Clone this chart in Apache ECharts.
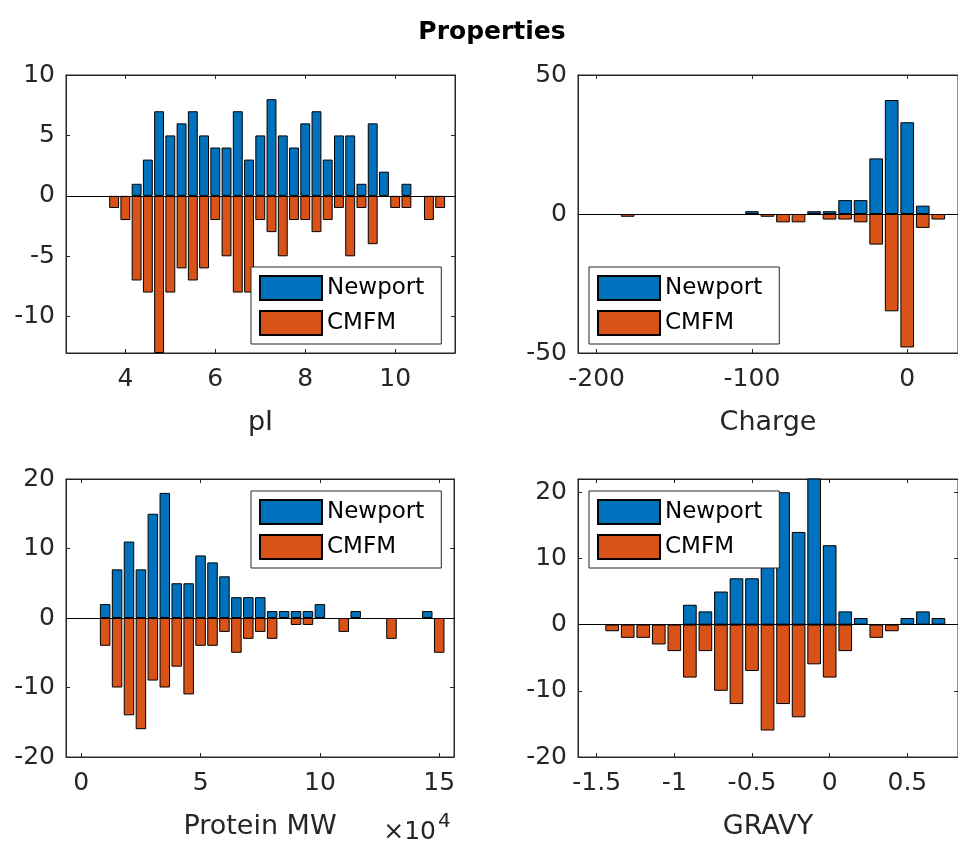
<!DOCTYPE html>
<html>
<head>
<meta charset="utf-8">
<script src="https://cdn.jsdelivr.net/npm/echarts@6/dist/echarts.min.js"></script>
<style>
  html, body { margin: 0; padding: 0; background: #fff; }
  #chart { width: 958px; height: 844px; }
</style>
</head>
<body>
<div id="chart"></div>
<script>
// ---------- data ----------
const seriesNames = ['Newport', 'CMFM'];

// pI histogram
const pIBins = [3.75, 4.0, 4.25, 4.5, 4.75, 5.0, 5.25, 5.5, 5.75, 6.0, 6.25, 6.5, 6.75, 7.0, 7.25,
                7.5, 7.75, 8.0, 8.25, 8.5, 8.75, 9.0, 9.25, 9.5, 9.75, 10.0, 10.25, 10.5, 10.75, 11.0];
const pINewport = [0, 0, 1, 3, 7, 5, 6, 7, 5, 4, 4, 7, 3, 5, 8, 5, 4, 6, 7, 3, 5, 5, 1, 6, 2, 0, 1, 0, 0, 0];
const pICMFM = [-1, -2, -7, -8, -13, -8, -6, -7, -6, -2, -5, -8, -8, -2, -3, -5, -2, -2, -3, -2, -1, -5, -1, -4, 0, -1, -1, 0, -2, -1];
const pIXTicks = [4, 6, 8, 10];
const pIYTicks = [-10, -5, 0, 5, 10];

// Charge histogram
const chargeBins = [-180, -170, -160, -150, -140, -130, -120, -110, -100, -90, -80, -70, -60, -50, -40, -30, -20, -10, 0, 10, 20];
const chargeNewport = [0, 0, 0, 0, 0, 0, 0, 0, 1, 0, 0, 0, 1, 1, 5, 5, 20, 41, 33, 3, 0];
const chargeCMFM = [-1, 0, 0, 0, 0, 0, 0, 0, 0, -1, -3, -3, 0, -2, -2, -3, -11, -35, -48, -5, -2];
const chargeXTicks = [-200, -100, 0];
const chargeYTicks = [-50, 0, 50];

// Protein MW histogram
const mwBins = [10000, 15000, 20000, 25000, 30000, 35000, 40000, 45000, 50000, 55000, 60000, 65000, 70000, 75000, 80000,
                85000, 90000, 95000, 100000, 105000, 110000, 115000, 120000, 125000, 130000, 135000, 140000, 145000, 150000];
const mwNewport = [2, 7, 11, 7, 15, 18, 5, 5, 9, 8, 6, 3, 3, 3, 1, 1, 1, 1, 2, 0, 0, 1, 0, 0, 0, 0, 0, 1, 0];
const mwCMFM = [-4, -10, -14, -16, -9, -10, -7, -11, -4, -4, -2, -5, -3, -2, -3, 0, -1, -1, 0, 0, -2, 0, 0, 0, -3, 0, 0, 0, -5];
const mwXTicks = [0, 50000, 100000, 150000];
const mwYTicks = [-20, -10, 0, 10, 20];

// GRAVY histogram
const gravyBins = [-1.4, -1.3, -1.2, -1.1, -1.0, -0.9, -0.8, -0.7, -0.6, -0.5, -0.4, -0.3, -0.2, -0.1, 0.0, 0.1, 0.2, 0.3, 0.4, 0.5, 0.6, 0.7];
const gravyNewport = [0, 0, 0, 0, 0, 3, 2, 5, 7, 7, 10, 20, 14, 23, 12, 2, 1, 0, 0, 1, 2, 1];
const gravyCMFM = [-1, -2, -2, -3, -4, -8, -4, -10, -12, -7, -16, -12, -14, -6, -8, -4, 0, -2, -1, 0, 0, 0];
const gravyXTicks = [-1.5, -1, -0.5, 0, 0.5];
const gravyYTicks = [-20, -10, 0, 10, 20];

// ---------- styling ----------
const FONT = 'DejaVu Sans';
const AXIS_COLOR = '#262626';
const BLUE = '#0072BD';
const ORANGE = '#D95319';

const panels = [
  { bins: pIBins, a: pINewport, b: pICMFM, xr: [2.68, 11.33], yr: [-13, 10], xt: pIXTicks, yt: pIYTicks,
    name: 'pI', grid: { left: 66, top: 75, width: 389, height: 278 }, legend: { left: 251, top: 267 } },
  { bins: chargeBins, a: chargeNewport, b: chargeCMFM, xr: [-212, 32.7], yr: [-50, 50], xt: chargeXTicks, yt: chargeYTicks,
    name: 'Charge', grid: { left: 578, top: 75, width: 389, height: 278 }, legend: { left: 589, top: 267 } },
  { bins: mwBins, a: mwNewport, b: mwCMFM, xr: [-6400, 156200], yr: [-20, 20], xt: mwXTicks, yt: mwYTicks,
    name: 'Protein MW', fmt: v => String(v / 10000), grid: { left: 66, top: 479, width: 388, height: 278 }, legend: { left: 251, top: 491 } },
  { bins: gravyBins, a: gravyNewport, b: gravyCMFM, xr: [-1.62, 0.826], yr: [-20, 22], xt: gravyXTicks, yt: gravyYTicks,
    name: 'GRAVY', grid: { left: 578, top: 479, width: 389, height: 278 }, legend: { left: 589, top: 491 } }
];

const grids = [], xAxes = [], yAxes = [], series = [], legends = [];
panels.forEach((p, i) => {
  grids.push(Object.assign({ show: true, borderColor: AXIS_COLOR, borderWidth: 1, backgroundColor: '#fff' }, p.grid));
  const labelStyle = { fontFamily: FONT, fontSize: 25, color: AXIS_COLOR };
  xAxes.push({
    type: 'value', gridIndex: i, position: 'bottom', min: p.xr[0], max: p.xr[1],
    axisLine: { show: true, onZero: false, lineStyle: { color: AXIS_COLOR, width: 1 } },
    axisTick: { show: true, inside: true, length: 4, customValues: p.xt, lineStyle: { color: AXIS_COLOR } },
    axisLabel: Object.assign({ show: true, margin: 14, customValues: p.xt, formatter: p.fmt || (v => String(v)) }, labelStyle),
    splitLine: { show: false },
    name: p.name, nameLocation: 'middle', nameGap: 56,
    nameTextStyle: { fontFamily: FONT, fontSize: 27, color: AXIS_COLOR }
  });
  xAxes.push({
    type: 'value', gridIndex: i, position: 'top', min: p.xr[0], max: p.xr[1],
    axisLine: { show: true, onZero: false, lineStyle: { color: AXIS_COLOR, width: 1 } },
    axisTick: { show: true, inside: true, length: 4, customValues: p.xt, lineStyle: { color: AXIS_COLOR } },
    axisLabel: { show: false }, splitLine: { show: false }
  });
  yAxes.push({
    type: 'value', gridIndex: i, position: 'left', min: p.yr[0], max: p.yr[1],
    axisLine: { show: true, onZero: false, lineStyle: { color: AXIS_COLOR, width: 1 } },
    axisTick: { show: true, inside: true, length: 4, customValues: p.yt, lineStyle: { color: AXIS_COLOR } },
    axisLabel: Object.assign({ show: true, margin: 11, customValues: p.yt }, labelStyle),
    splitLine: { show: false }
  });
  yAxes.push({
    type: 'value', gridIndex: i, position: 'right', min: p.yr[0], max: p.yr[1],
    axisLine: { show: true, onZero: false, lineStyle: { color: AXIS_COLOR, width: 1 } },
    axisTick: { show: true, inside: true, length: 4, customValues: p.yt, lineStyle: { color: AXIS_COLOR } },
    axisLabel: { show: false }, splitLine: { show: false }
  });
  const mk = (vals, name, color, withBase) => ({
    type: 'bar', name: name, xAxisIndex: 2 * i, yAxisIndex: 2 * i,
    // empty bins are left blank ('-') so that no zero-height outline is drawn
    data: p.bins.map((x, k) => [x, vals[k] === 0 ? '-' : vals[k]]),
    barWidth: '88%', barGap: '-100%', clip: true,
    itemStyle: { color: color, borderColor: '#000', borderWidth: 1 },
    emphasis: { disabled: true },
    markLine: withBase ? {
      silent: true, symbol: 'none', animation: false,
      label: { show: false },
      lineStyle: { color: '#000', width: 1, type: 'solid' },
      emphasis: { disabled: true },
      data: [{ yAxis: 0 }]
    } : undefined
  });
  series.push(mk(p.a, seriesNames[0], BLUE, false));
  series.push(mk(p.b, seriesNames[1], ORANGE, true));
  legends.push({
    orient: 'vertical', left: p.legend.left, top: p.legend.top,
    backgroundColor: '#fff', borderColor: AXIS_COLOR, borderWidth: 1,
    padding: [8, 17, 8, 8], itemGap: 9, itemWidth: 62, itemHeight: 24,
    icon: 'rect', selectedMode: false,
    textStyle: { fontFamily: FONT, fontSize: 23, color: '#000' },
    data: seriesNames
  });
});

const chart = echarts.init(document.getElementById('chart'), null, { renderer: 'canvas' });
chart.setOption({
  animation: false,
  backgroundColor: '#fff',
  title: {
    text: 'Properties', left: 487, top: 15, textAlign: 'center',
    textStyle: { fontFamily: FONT, fontWeight: 'bold', fontSize: 25, color: '#000' }
  },
  legend: legends,
  grid: grids,
  xAxis: xAxes,
  yAxis: yAxes,
  series: series,
  graphic: [
    { type: 'text', x: 436, y: 832,
      style: { text: '\u00d710', font: '25px "DejaVu Sans"', fill: AXIS_COLOR, textAlign: 'right', textVerticalAlign: 'middle' } },
    { type: 'text', x: 438, y: 822,
      style: { text: '4', font: '20px "DejaVu Sans"', fill: AXIS_COLOR, textAlign: 'left', textVerticalAlign: 'middle' } }
  ]
});
</script>
</body>
</html>
